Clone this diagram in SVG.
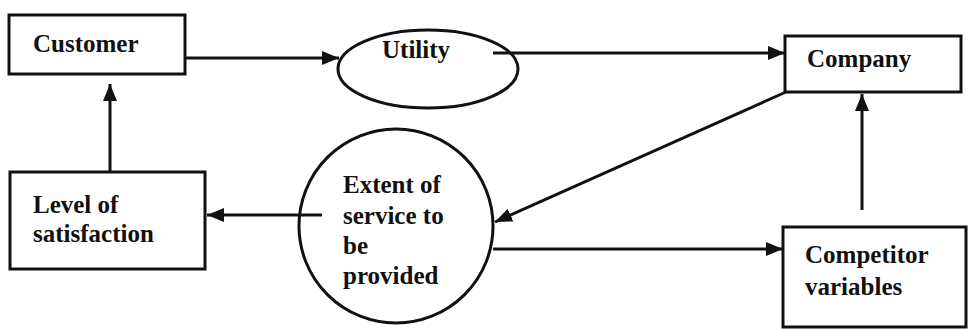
<svg xmlns="http://www.w3.org/2000/svg" width="968" height="329" viewBox="0 0 968 329">
  <defs>
    <marker id="arrow" markerUnits="userSpaceOnUse" markerWidth="18" markerHeight="16" viewBox="0 0 18 16" refX="17" refY="8" orient="auto">
      <path d="M0,1 L17,8 L0,15 Z" fill="#111"/>
    </marker>
    <style>
      .box { fill: #fff; stroke: #111; stroke-width: 3; }
      .shape { fill: #fff; stroke: #111; stroke-width: 3; }
      .lbl { font-weight: bold; font-size: 25px; fill: #111; }
      .edge { fill: none; stroke: #111; stroke-width: 3; marker-end: url(#arrow); }
    </style>
  </defs>
  <rect width="968" height="329" fill="#fff"/>

  <g font-family="'Liberation Serif', 'DejaVu Serif', serif">
  <g id="customer">
    <rect class="box" x="9" y="15" width="176" height="59"/>
    <text class="lbl" x="33" y="52">Customer</text>
  </g>

  <g id="utility">
    <ellipse class="shape" cx="428" cy="69" rx="90" ry="39"/>
    <text class="lbl" x="382" y="58">Utility</text>
  </g>

  <g id="company">
    <rect class="box" x="785" y="36" width="176" height="56"/>
    <text class="lbl" x="807" y="67">Company</text>
  </g>

  <g id="satisfaction">
    <rect class="box" x="10" y="172" width="195" height="97"/>
    <text class="lbl" x="33" y="213">Level of</text>
    <text class="lbl" x="33" y="242">satisfaction</text>
  </g>

  <g id="service">
    <circle class="shape" cx="396" cy="226" r="97"/>
    <text class="lbl" x="343" y="193">Extent of</text>
    <text class="lbl" x="343" y="224">service to</text>
    <text class="lbl" x="343" y="254">be</text>
    <text class="lbl" x="343" y="284">provided</text>
  </g>

  <g id="competitor">
    <rect class="box" x="783" y="227" width="183" height="100"/>
    <text class="lbl" x="805" y="263">Competitor</text>
    <text class="lbl" x="805" y="295">variables</text>
  </g>
  </g>

  <g id="connectors">
    <line class="edge" x1="185" y1="58" x2="339" y2="58"/>
    <line class="edge" x1="493" y1="53" x2="785" y2="53"/>
    <line class="edge" x1="786" y1="92" x2="495" y2="222"/>
    <line class="edge" x1="322" y1="215" x2="207" y2="215"/>
    <line class="edge" x1="110" y1="172" x2="110" y2="84"/>
    <line class="edge" x1="493" y1="249" x2="783" y2="249"/>
    <line class="edge" x1="862" y1="210" x2="862" y2="94"/>
  </g>
</svg>
